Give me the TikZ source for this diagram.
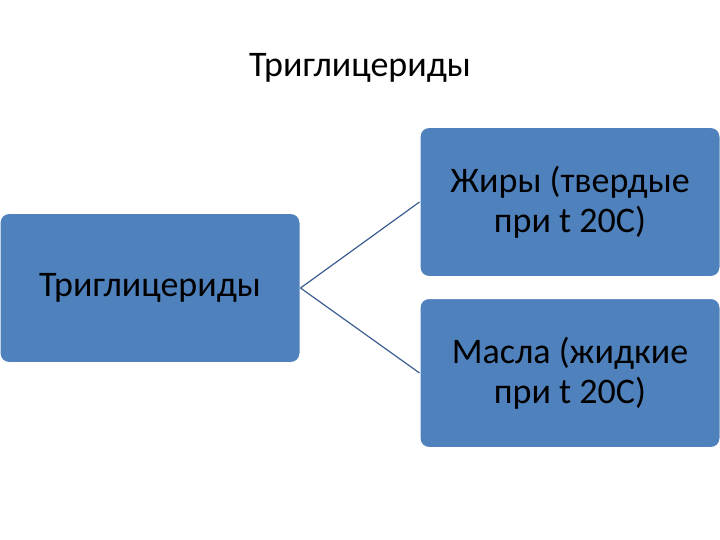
\documentclass[tikz,border=0pt]{standalone}
\usepackage{fontspec}
\setmainfont{Carlito}
\definecolor{boxblue}{HTML}{4F81BD}
\definecolor{linkblue}{HTML}{3B5E91}
\begin{document}
\begin{tikzpicture}[x=1pt,y=-1pt,
  bx/.style={draw=white,line width=1pt,fill=boxblue,rounded corners=9pt,minimum width=300pt,minimum height=149pt,inner sep=0pt,align=center,font=\fontsize{36}{40}\selectfont},
  link/.style={draw=linkblue,line width=1.2pt}]
\useasboundingbox (0,0) rectangle (720,540);
\node[font=\fontsize{36}{40}\selectfont] (title) at (360,68) {Триглицериды};
\node[bx] (tg) at (150,288) {Триглицериды};
\node[bx] (fat) at (570,202) {Жиры (твердые\\при t 20C)};
\node[bx] (oil) at (570,373) {Масла (жидкие\\при t 20C)};
\draw[link] (tg.east) -- (fat.west);
\draw[link] (tg.east) -- (oil.west);
\end{tikzpicture}
\end{document}
